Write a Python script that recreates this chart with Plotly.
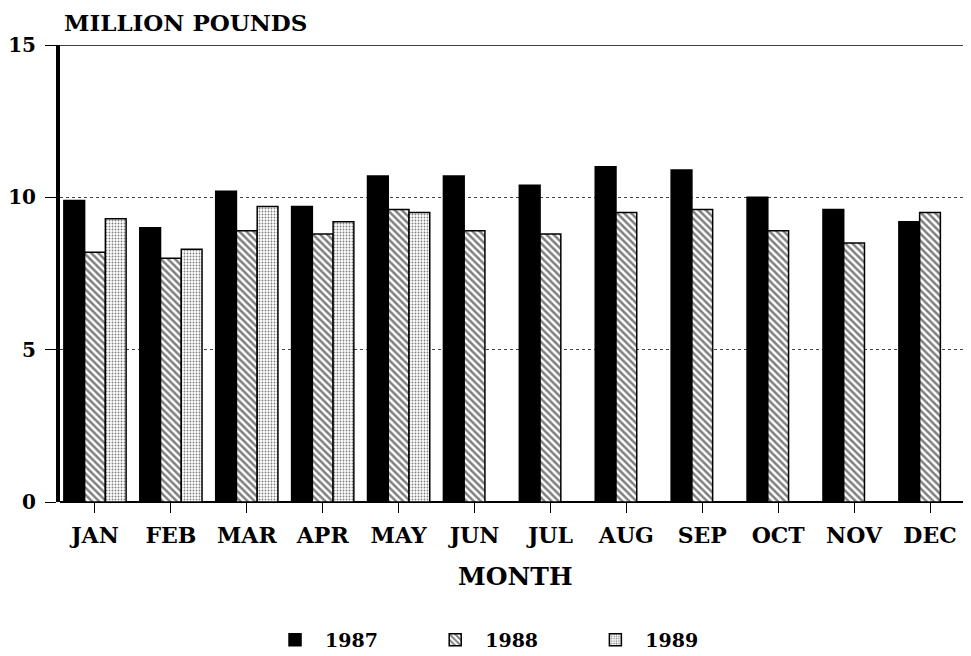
import plotly.graph_objects as go

months = ["JAN", "FEB", "MAR", "APR", "MAY", "JUN", "JUL", "AUG", "SEP", "OCT", "NOV", "DEC"]
y1987 = [9.9, 9.0, 10.2, 9.7, 10.7, 10.7, 10.4, 11.0, 10.9, 10.0, 9.6, 9.2]
y1988 = [8.2, 8.0, 8.9, 8.8, 9.6, 8.9, 8.8, 9.5, 9.6, 8.9, 8.5, 9.5]
y1989 = [9.3, 8.3, 9.7, 9.2, 9.5, None, None, None, None, None, None, None]
y_ticks = [0, 5, 10, 15]
series_names = ["1987", "1988", "1989"]

FONT = "DejaVu Serif"
x = list(range(len(months)))
PAD = "\u00a0" * 7

fig = go.Figure()
fig.add_trace(go.Bar(
    x=x, y=y1987, name="<b>%s</b>%s" % (series_names[0], PAD),
    marker=dict(color="black", line=dict(color="black", width=1.5)),
))
fig.add_trace(go.Bar(
    x=x, y=y1988, name="<b>%s</b>%s" % (series_names[1], PAD),
    marker=dict(color="white", line=dict(color="black", width=1.5),
                pattern=dict(shape="\\", fgcolor="black", bgcolor="white", size=5, solidity=0.5)),
))
fig.add_trace(go.Bar(
    x=x, y=y1989, name="<b>%s</b>" % series_names[2],
    marker=dict(color="white", line=dict(color="black", width=1.5),
                pattern=dict(shape=".", fgcolor="black", bgcolor="white", size=3, solidity=0.3)),
))

fig.update_layout(
    width=963, height=648,
    margin=dict(l=52, r=0, t=37, b=154, autoexpand=False),
    paper_bgcolor="white", plot_bgcolor="white",
    barmode="group", bargap=0.18, bargroupgap=0.0,
    font=dict(family=FONT, color="black"),
    showlegend=True,
    legend=dict(orientation="h", x=0.466, xanchor="center", y=-0.302, yanchor="middle",
                font=dict(family=FONT, size=19, color="black"),
                itemwidth=50, traceorder="normal"),
    xaxis=dict(
        tickmode="array", tickvals=x, ticktext=["<b>%s</b>" % m for m in months],
        range=[-0.461, 11.54],
        showgrid=False, zeroline=False, showline=False,
        ticks="outside", ticklen=10, tickcolor="black",
        tickfont=dict(family=FONT, size=22, color="black"),
        ticklabelstandoff=4,
        automargin=False,
    ),
    yaxis=dict(
        range=[0, 15], tickmode="array", tickvals=y_ticks,
        ticktext=["<b>%d</b>" % v for v in y_ticks],
        showgrid=True, gridcolor="#444444", griddash="dot", gridwidth=1,
        zeroline=True, zerolinecolor="black", zerolinewidth=2,
        showline=True, linecolor="black", linewidth=4,
        ticks="outside", ticklen=11, tickcolor="black",
        tickfont=dict(family=FONT, size=20, color="black"),
        ticklabelstandoff=5,
        automargin=False,
    ),
)

# top frame line and captions
fig.add_shape(type="line", xref="paper", yref="y", x0=0, x1=1, y0=15, y1=15,
              line=dict(color="black", width=1.5))
fig.add_annotation(text="<b>MILLION POUNDS</b>", xref="paper", yref="paper",
                   x=0.002, y=1, xanchor="left", yanchor="bottom", yshift=7,
                   showarrow=False, font=dict(family=FONT, size=23, color="black"))
fig.add_annotation(text="<b>MONTH</b>", xref="paper", yref="paper",
                   x=0.5, y=-0.162, xanchor="center", yanchor="middle",
                   showarrow=False, font=dict(family=FONT, size=25, color="black"))

fig.write_html("out.html")
